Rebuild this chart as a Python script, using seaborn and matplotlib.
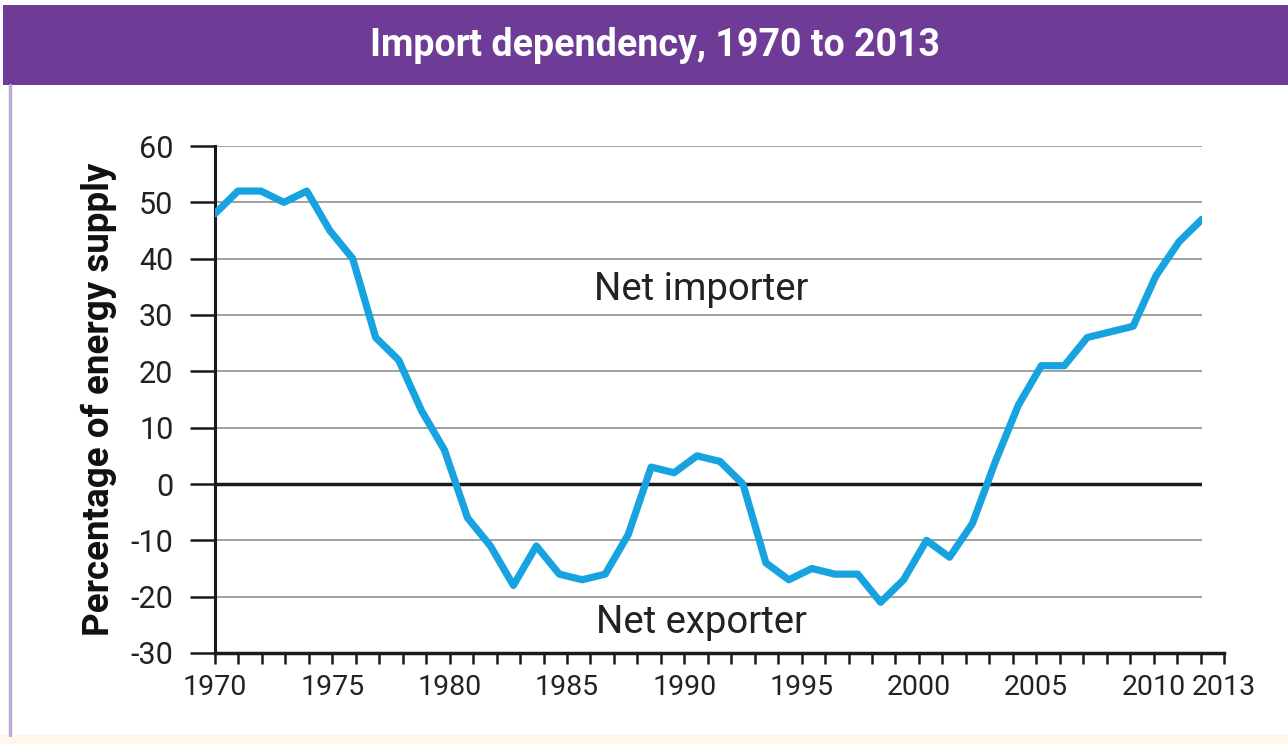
import matplotlib
matplotlib.use("Agg")
import matplotlib.pyplot as plt
import seaborn as sns
import pandas as pd
from matplotlib.patches import Rectangle
from matplotlib.lines import Line2D

# ---------------- data ----------------
years = list(range(1970, 2014))
import_dependency = [48, 52, 52, 50, 52, 45, 40, 26, 22, 13,
                     6, -6, -11, -18, -11, -16, -17, -16, -9, 3,
                     2, 5, 4, 0, -14, -17, -15, -16, -16, -21,
                     -17, -10, -13, -7, 4, 14, 21, 21, 26, 27,
                     28, 37, 43, 47]
y_ticks = [-30, -20, -10, 0, 10, 20, 30, 40, 50, 60]
x_label_years = [1970, 1975, 1980, 1985, 1990, 1995, 2000, 2005, 2010, 2013]
title_text = "Import dependency, 1970 to 2013"
ylabel_text = "Percentage of energy supply"
label_import = "Net importer"
label_export = "Net exporter"

df = pd.DataFrame({"year": years, "value": import_dependency})

# ---------------- style ----------------
sns.set_theme(style="white")
plt.rcParams["font.family"] = ["Roboto", "DejaVu Sans"]

W, H = 1288, 744
fig = plt.figure(figsize=(W / 100, H / 100), dpi=100)
fig.patch.set_facecolor("white")

purple = "#6e3b97"
line_blue = "#17a3e0"

# title bar
fig.add_artist(Rectangle((3 / W, 1 - 85 / H), 1 - 3 / W, 80 / H,
                         transform=fig.transFigure, facecolor=purple,
                         edgecolor="none", zorder=0))
fig.text(655 / W, 1 - 45 / H, title_text, color="white", fontsize=27,
         fontweight="bold", ha="center", va="center")
# left light purple border
fig.add_artist(Line2D([10 / W, 10 / W], [1 - 85 / H, 1 - 735 / H],
                      transform=fig.transFigure, color="#bcaad2", lw=2.5))
# cream bottom strip
fig.add_artist(Rectangle((0, 0), 1, 9 / H, transform=fig.transFigure,
                         facecolor="#fdf8ea", edgecolor="none"))

left = 215 / W
bottom = 1 - 653 / H
height = 507 / H
data_width = 987 / W
tick_width = 1009 / W

ax = fig.add_axes([left, bottom, data_width, height])
ax.set_facecolor("white")
sns.lineplot(data=df, x="year", y="value", ax=ax, color=line_blue,
             linewidth=5.2, solid_capstyle="round", zorder=5)
ax.set_xlim(1970, 2013)
ax.set_ylim(-30, 60)
ax.set_yticks(y_ticks)
ax.set_yticklabels([str(v) for v in y_ticks], fontsize=22, color="#222222")
ax.set_xticks([])
ax.set_xlabel("")
ax.set_ylabel(ylabel_text, fontsize=26.5, fontweight="bold", color="#111111",
              labelpad=10)
ax.yaxis.grid(True, color="#a0a0a0", linewidth=1.4)
ax.xaxis.grid(False)
ax.axhline(0, color="#1a1a1a", linewidth=2.5, zorder=3)
for s in ["top", "right", "bottom"]:
    ax.spines[s].set_visible(False)
ax.spines["left"].set_color("#1a1a1a")
ax.spines["left"].set_linewidth(2.2)
ax.tick_params(axis="y", which="major", direction="out", length=18,
               width=1.8, color="#1a1a1a", pad=12, left=True)

ax.text(1991.2, 34.5, label_import, fontsize=27.5, color="#222222",
        ha="center", va="center")
ax.text(1991.2, -24.5, label_export, fontsize=27.5, color="#222222",
        ha="center", va="center")

# tick axis for the years
ax2 = fig.add_axes([left, bottom, tick_width, height])
ax2.patch.set_visible(False)
ax2.set_xlim(1970, 2013)
ax2.set_yticks([])
for s in ["top", "right", "left"]:
    ax2.spines[s].set_visible(False)
ax2.spines["bottom"].set_color("#1a1a1a")
ax2.spines["bottom"].set_linewidth(2.5)
ax2.set_xticks(years, minor=True)
ax2.set_xticks(x_label_years)
ax2.set_xticklabels([str(y) for y in x_label_years], fontsize=20.5,
                    color="#222222")
ax2.tick_params(axis="x", which="both", direction="out", length=8,
                width=1.8, color="#1a1a1a", pad=7, bottom=True)
ax2.grid(False)

fig.savefig("out.png", dpi=100, facecolor="white")
